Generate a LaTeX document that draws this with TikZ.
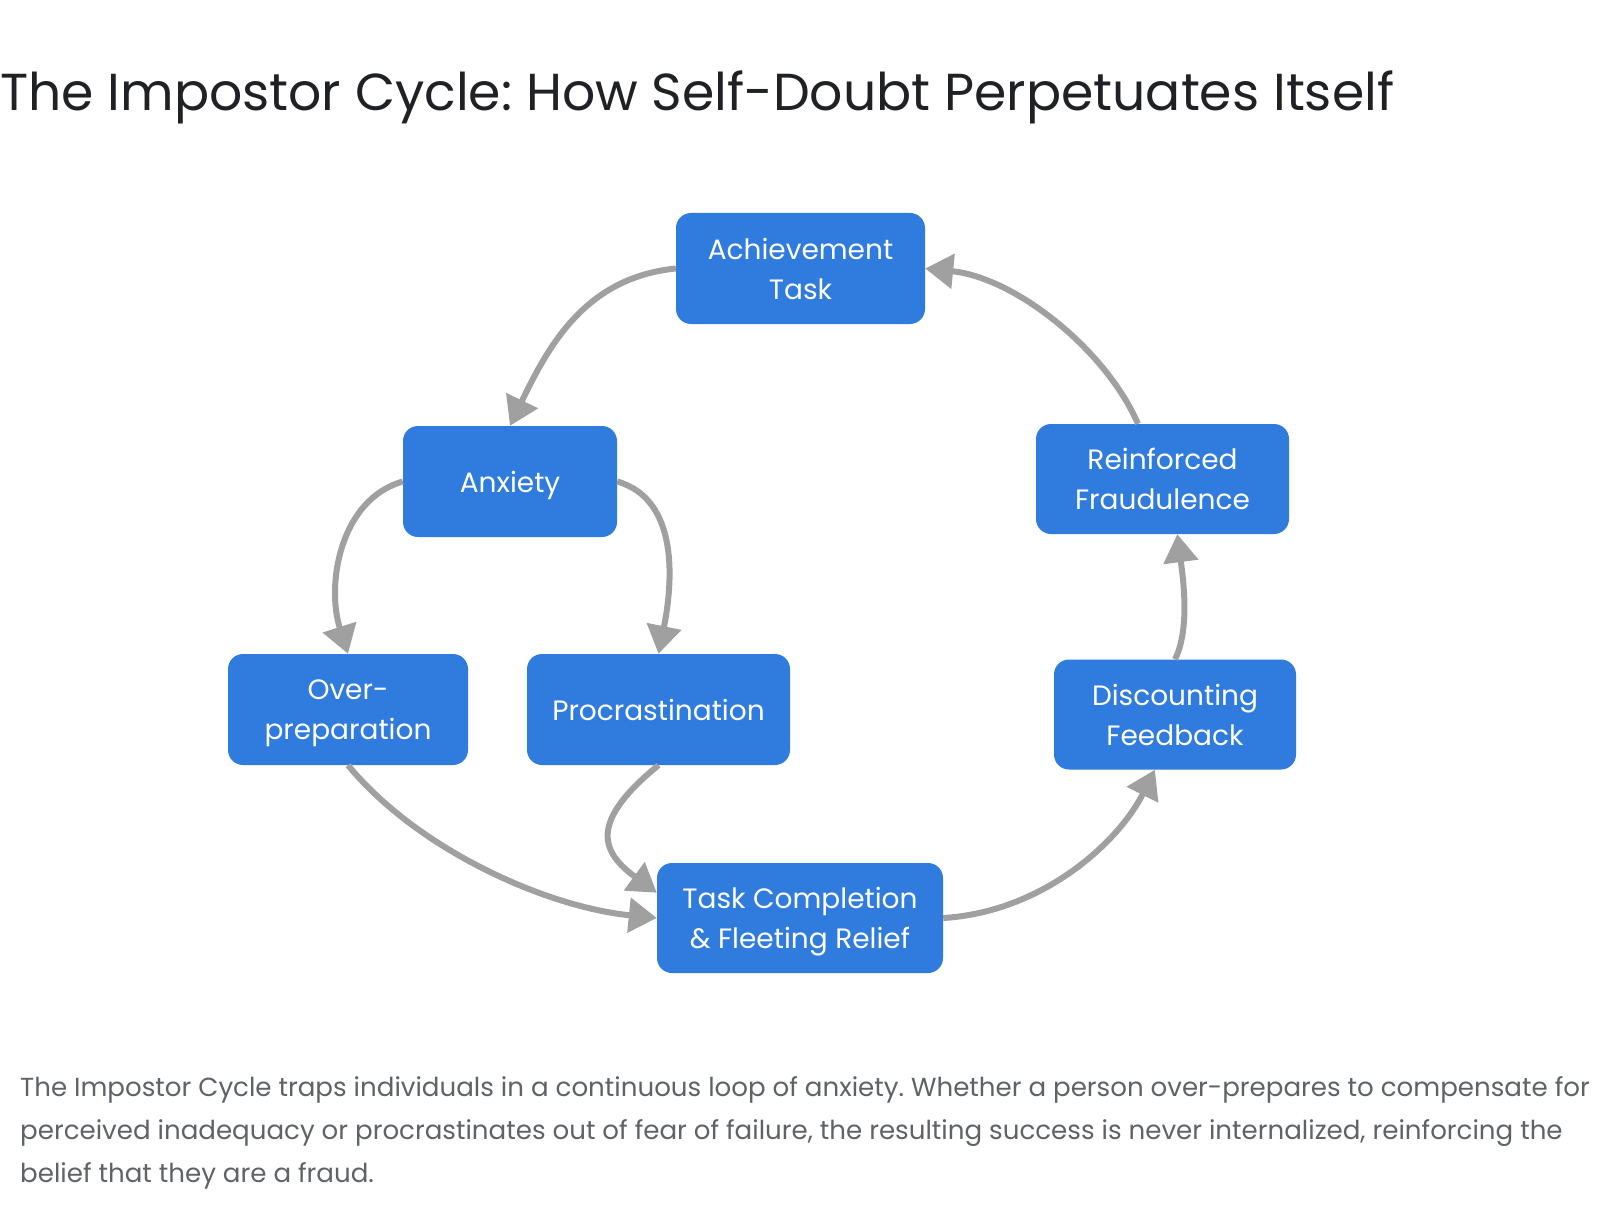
\documentclass[tikz,border=0pt]{standalone}
\usepackage{fontspec}
\setmainfont{Poppins}
\usetikzlibrary{arrows.meta}
\definecolor{boxblue}{HTML}{2F7BDE}
\definecolor{arrowgray}{HTML}{A0A0A0}
\definecolor{titlecol}{HTML}{202124}
\definecolor{captcol}{HTML}{5F6368}
\frenchspacing
\begin{document}
\begin{tikzpicture}[x=1pt,y=1pt,
  stage/.style={fill=boxblue, rounded corners=15pt, text=white, align=center, inner sep=0pt, minimum height=111pt, font=\fontsize{28}{40}\selectfont},
  flow/.style={draw=arrowgray, line width=6pt, -{Triangle[length=28pt,width=34pt]}},
  captext/.style={anchor=base west, inner sep=0pt, text=captcol, font=\fontsize{26.1}{43}\selectfont}]
\useasboundingbox (0,0) rectangle (1600,-1206);
\fill[white] (0,0) rectangle (1600,-1206);

\node[anchor=base west, inner sep=0pt, text=titlecol, font=\fontsize{52}{60}\selectfont] (title) at (0,-111) {The Impostor Cycle: How Self-Doubt Perpetuates Itself};

\node[stage, minimum width=249pt] (ach) at (800.5,-268.5) {Achievement\\Task};
\node[stage, minimum width=214pt, text depth=0pt] (anx) at (510,-481.5) {Anxiety};
\node[stage, minimum width=240pt, text depth=0pt] (over) at (348,-709.5) {Over-\\preparation};
\node[stage, minimum width=263pt, text depth=0pt] (proc) at (658.5,-709.5) {Procrastination};
\node[stage, minimum width=286pt, minimum height=110pt, text depth=0pt] (task) at (800,-918) {Task Completion\\\& Fleeting Relief};
\node[stage, minimum width=242pt, minimum height=110pt] (disc) at (1175,-714.5) {Discounting\\Feedback};
\node[stage, minimum width=253pt, minimum height=110pt] (reinf) at (1162.5,-479) {Reinforced\\Fraudulence};

\draw[flow] (ach.west) .. controls +(-90,-9) and +(39,81) .. (anx.north);
\draw[flow] (anx.west) .. controls +(-63,-18) and +(-22,69) .. (over.north);
\draw[flow] (anx.east) .. controls +(63,-18) and +(14,69) .. (proc.north);
\draw[flow] (over.south) .. controls +(70,-85) and +(-110,11) .. (task.west);
\draw[flow] (proc.south) .. controls +(-70,-57) and +(-56,41) .. (task.170);
\draw[flow] (task.east) .. controls +(100,6) and +(-36,-72) .. (disc.250);
\draw[flow] (disc.north) .. controls +(15,30) and +(6,-46) .. (reinf.285);
\draw[flow] (reinf.114) .. controls +(-32,74) and +(90,-9) .. (ach.east);

\node[captext] (cap1) at (20,-1096) {The Impostor Cycle traps individuals in a continuous loop of anxiety. Whether a person over-prepares to compensate for};
\node[captext] (cap2) at (20,-1139) {perceived inadequacy or procrastinates out of fear of failure, the resulting success is never internalized, reinforcing the};
\node[captext] (cap3) at (20,-1182) {belief that they are a fraud.};
\end{tikzpicture}
\end{document}
